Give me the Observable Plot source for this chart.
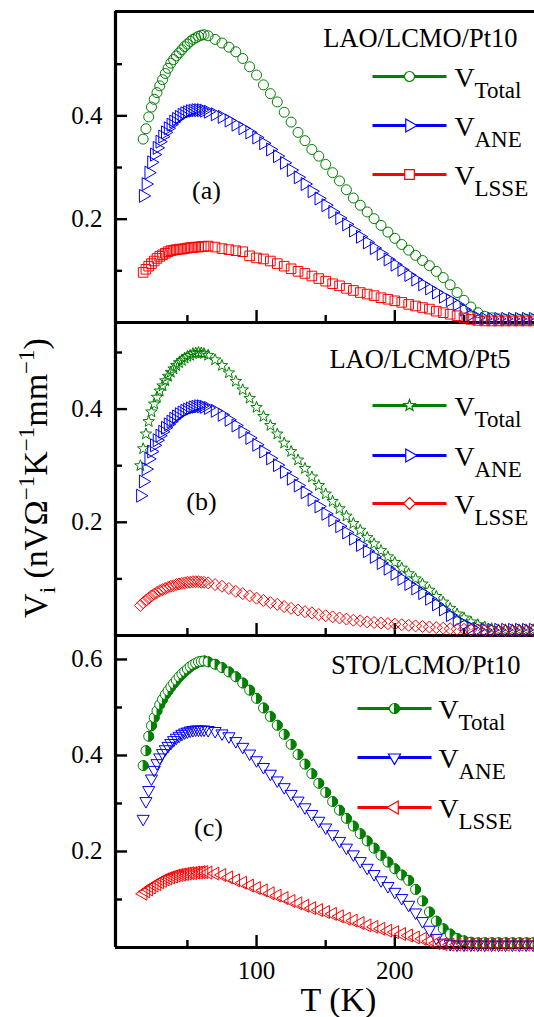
<!DOCTYPE html>
<html><head><meta charset="utf-8">
<script src="https://cdn.jsdelivr.net/npm/d3@7"></script>
<script src="https://cdn.jsdelivr.net/npm/@observablehq/plot@0.6"></script>
<style>
html,body{margin:0;padding:0;background:#fff;}
#chart{position:relative;width:534px;height:1017px;overflow:hidden;background:#fff;font-family:"Liberation Serif",serif;}
#chart text{font-family:"Liberation Serif",serif;}
</style></head>
<body><div id="chart"></div>
<script>
// ---------------- data ----------------
const tempsA = [18,20,22,24,26,28,30,32,34,36,38,40,42,44,46,48,50,52,54,56,58,60,62,65,70,75,80,85,90,95,100,105,110,115,120,125,130,135,140,145,150,155,160,165,170,175,180,185,190,195,200,205,210,215,220,225,230,235,240,245,250,255,260,265,270,275,280,285,290,295,300];
const totalA = [0.355,0.375,0.398,0.417,0.432,0.445,0.458,0.470,0.482,0.492,0.502,0.509,0.516,0.522,0.528,0.534,0.539,0.544,0.548,0.551,0.554,0.556,0.557,0.555,0.548,0.541,0.533,0.524,0.511,0.495,0.479,0.460,0.443,0.427,0.407,0.388,0.368,0.352,0.335,0.322,0.306,0.290,0.274,0.257,0.241,0.227,0.214,0.201,0.188,0.175,0.163,0.151,0.140,0.130,0.120,0.110,0.099,0.087,0.073,0.058,0.043,0.030,0.019,0.012,0.009,0.007,0.006,0.006,0.006,0.006,0.006];
const aneA = [0.245,0.268,0.290,0.310,0.325,0.338,0.350,0.360,0.368,0.376,0.383,0.389,0.394,0.398,0.402,0.405,0.407,0.409,0.410,0.411,0.411,0.411,0.410,0.408,0.403,0.398,0.391,0.383,0.376,0.368,0.358,0.347,0.335,0.322,0.309,0.295,0.281,0.268,0.254,0.240,0.227,0.214,0.202,0.190,0.178,0.166,0.155,0.144,0.133,0.122,0.112,0.102,0.092,0.083,0.074,0.066,0.058,0.050,0.043,0.035,0.025,0.015,0.009,0.007,0.007,0.007,0.007,0.007,0.007,0.007,0.007];
const lsseA = [0.097,0.103,0.109,0.114,0.119,0.124,0.128,0.131,0.134,0.137,0.139,0.140,0.141,0.142,0.142,0.143,0.144,0.145,0.145,0.146,0.146,0.147,0.147,0.148,0.146,0.143,0.141,0.139,0.137,0.129,0.125,0.123,0.119,0.114,0.109,0.104,0.099,0.095,0.090,0.085,0.080,0.075,0.071,0.066,0.062,0.058,0.055,0.052,0.048,0.045,0.042,0.039,0.035,0.032,0.029,0.026,0.022,0.019,0.016,0.013,0.009,0.006,0.004,0.003,0.003,0.003,0.003,0.003,0.003,0.003,0.003];

const tempsB = [16,18,20,22,24,26,28,30,32,34,36,38,40,42,44,46,48,50,52,54,56,58,60,62,65,70,75,80,85,90,95,100,105,110,115,120,125,130,135,140,145,150,155,160,165,170,175,180,185,190,195,200,205,210,215,220,225,230,235,240,245,250,255,260,265,270,275,280,285,290,295,300];
const totalB = [0.300,0.330,0.356,0.378,0.395,0.409,0.421,0.432,0.441,0.450,0.458,0.465,0.471,0.477,0.482,0.486,0.490,0.493,0.495,0.498,0.499,0.500,0.499,0.498,0.495,0.487,0.477,0.464,0.449,0.434,0.419,0.403,0.387,0.371,0.356,0.340,0.325,0.310,0.295,0.280,0.265,0.250,0.237,0.224,0.211,0.198,0.186,0.173,0.162,0.150,0.139,0.129,0.119,0.109,0.100,0.091,0.080,0.069,0.059,0.048,0.038,0.031,0.024,0.019,0.015,0.012,0.010,0.010,0.010,0.010,0.010,0.010];
const aneB = [0.247,0.272,0.294,0.312,0.325,0.336,0.345,0.353,0.360,0.367,0.373,0.378,0.383,0.387,0.391,0.394,0.397,0.399,0.401,0.403,0.404,0.405,0.405,0.404,0.402,0.397,0.390,0.381,0.371,0.360,0.349,0.337,0.325,0.313,0.301,0.289,0.277,0.265,0.253,0.240,0.228,0.215,0.204,0.193,0.182,0.171,0.160,0.149,0.139,0.128,0.118,0.109,0.100,0.091,0.083,0.075,0.065,0.055,0.046,0.036,0.027,0.020,0.014,0.011,0.010,0.010,0.010,0.010,0.010,0.010,0.010,0.010];
const lsseB = [0.053,0.058,0.062,0.066,0.070,0.073,0.076,0.079,0.081,0.083,0.085,0.087,0.088,0.090,0.091,0.092,0.093,0.094,0.094,0.095,0.095,0.095,0.094,0.094,0.093,0.090,0.087,0.083,0.078,0.074,0.070,0.066,0.062,0.058,0.055,0.051,0.048,0.045,0.042,0.040,0.037,0.035,0.033,0.031,0.029,0.027,0.026,0.024,0.023,0.022,0.021,0.020,0.019,0.018,0.017,0.016,0.015,0.014,0.013,0.012,0.011,0.011,0.010,0.010,0.009,0.009,0.009,0.009,0.009,0.009,0.009,0.009];

const tempsC = [18,20,22,24,26,28,30,32,34,36,38,40,42,44,46,48,50,52,54,56,58,60,62,65,70,75,80,85,90,95,100,105,110,115,120,125,130,135,140,145,150,155,160,165,170,175,180,185,190,195,200,205,210,215,220,225,230,235,240,245,250,255,260,265,270,275,280,285,290,295,300];
const totalC = [0.379,0.410,0.440,0.462,0.479,0.493,0.506,0.517,0.527,0.535,0.543,0.550,0.557,0.564,0.570,0.575,0.580,0.585,0.589,0.592,0.595,0.596,0.597,0.595,0.590,0.583,0.574,0.564,0.551,0.536,0.519,0.499,0.481,0.463,0.444,0.423,0.402,0.382,0.362,0.342,0.323,0.304,0.286,0.269,0.253,0.237,0.222,0.207,0.192,0.178,0.164,0.151,0.140,0.121,0.097,0.074,0.055,0.039,0.028,0.019,0.014,0.011,0.010,0.010,0.010,0.010,0.010,0.010,0.010,0.010,0.010];
const aneC = [0.268,0.305,0.328,0.352,0.370,0.384,0.396,0.405,0.413,0.420,0.426,0.432,0.437,0.441,0.445,0.448,0.450,0.452,0.453,0.454,0.454,0.454,0.454,0.453,0.451,0.446,0.440,0.430,0.418,0.404,0.390,0.376,0.362,0.348,0.334,0.320,0.306,0.292,0.278,0.264,0.250,0.236,0.222,0.208,0.194,0.180,0.166,0.153,0.140,0.128,0.116,0.103,0.089,0.073,0.055,0.037,0.020,0.010,0.007,0.006,0.006,0.006,0.006,0.006,0.006,0.006,0.006,0.006,0.006,0.006,0.006];
const lsseC = [0.112,0.117,0.121,0.125,0.129,0.132,0.136,0.139,0.142,0.144,0.146,0.148,0.150,0.151,0.152,0.153,0.154,0.155,0.155,0.156,0.156,0.157,0.157,0.156,0.154,0.151,0.146,0.140,0.135,0.129,0.124,0.119,0.113,0.108,0.103,0.097,0.092,0.087,0.082,0.078,0.074,0.070,0.065,0.060,0.056,0.051,0.046,0.043,0.039,0.035,0.032,0.028,0.025,0.021,0.018,0.013,0.009,0.007,0.006,0.006,0.006,0.006,0.006,0.006,0.006,0.006,0.006,0.006,0.006,0.006,0.006];

const panelTitles = ["LAO/LCMO/Pt10", "LAO/LCMO/Pt5", "STO/LCMO/Pt10"];
const panelLetters = ["(a)", "(b)", "(c)"];
const seriesNames = ["Total", "ANE", "LSSE"];
const xMajorTicks = [100, 200];
const xMinorTicks = [50, 150, 250];
const yMajorA = [0.2, 0.4], yMinorA = [0.1, 0.3, 0.5];
const yMajorB = [0.2, 0.4], yMinorB = [0.1, 0.3, 0.5];
const yMajorC = [0.2, 0.4, 0.6], yMinorC = [0.1, 0.3, 0.5];
const xLabel = "T (K)";
const yLabelParts = [["V", ""], ["i", "sub"], [" (nVΩ", ""], ["−1", "sup"], ["K", ""], ["−1", "sup"], ["mm", ""], ["−1", "sup"], [")", ""]];

// ---------------- styling ----------------
const GREEN = "#008000", BLUE = "#0000ff", RED = "#ff0000";
const FONT = "'Liberation Serif', 'Times New Roman', serif";
const W = 534, LEFT = 115;
const X_DOMAIN = [-2, 301];

function shape(fn) { return {draw(ctx, size) { fn(ctx, Math.sqrt(size / Math.PI)); }}; }
const triRight = shape((c, r) => { c.moveTo(r, 0); c.lineTo(-r / 2, -r * 0.866); c.lineTo(-r / 2, r * 0.866); c.closePath(); });
const triLeft = shape((c, r) => { c.moveTo(-r, 0); c.lineTo(r / 2, -r * 0.866); c.lineTo(r / 2, r * 0.866); c.closePath(); });
const triDown = shape((c, r) => { c.moveTo(0, r); c.lineTo(-r * 0.866, -r / 2); c.lineTo(r * 0.866, -r / 2); c.closePath(); });
const squareS = shape((c, r) => { c.rect(-r, -r, 2 * r, 2 * r); });
const diamondS = shape((c, r) => { c.moveTo(0, -r); c.lineTo(r, 0); c.lineTo(0, r); c.lineTo(-r, 0); c.closePath(); });
const starS = shape((c, r) => {
  for (let i = 0; i < 10; i++) {
    const a = -Math.PI / 2 + i * Math.PI / 5, rr = i % 2 ? r * 0.42 : r;
    const x = rr * Math.cos(a), y = rr * Math.sin(a);
    if (i) c.lineTo(x, y); else c.moveTo(x, y);
  }
  c.closePath();
});
const halfRight = shape((c, r) => { c.moveTo(0, -r); c.arc(0, 0, r, -Math.PI / 2, Math.PI / 2); c.closePath(); });
const hline = shape((c, r) => { c.moveTo(-r, 0); c.lineTo(r, 0); });

function rows(temps, vals) { return temps.map((T, i) => ({T, V: vals[i]})); }

function seriesMarks(data, st) {
  if (st.half) {
    const inter = data.flatMap(d => [{...d, part: "ring"}, {...d, part: "half"}]);
    return [Plot.dot(inter, {x: "T", y: "V", r: st.r,
      symbol: d => d.part === "ring" ? "circle" : halfRight,
      fill: d => d.part === "ring" ? "white" : st.color,
      stroke: st.color, strokeWidth: 1})];
  }
  return [Plot.dot(data, {x: "T", y: "V", r: st.r, symbol: st.symbol, stroke: st.color, fill: "none", strokeWidth: 1})];
}

function txt(str, opts) {
  return Plot.text([str], {text: d => d, frameAnchor: "top-left", lineAnchor: "bottom", fill: "black", fontFamily: FONT, ...opts});
}

function legendMarks(st, i, lay, ft) {
  const rowY = lay.rows[i] - ft;
  const cx = (lay.lineX0 + lay.lineX1) / 2 - LEFT;
  const m = [];
  m.push(Plot.dot([0], {frameAnchor: "top-left", dx: cx, dy: rowY, symbol: hline, r: (lay.lineX1 - lay.lineX0) / 2, stroke: st.color, strokeWidth: 3, fill: "none"}));
  if (st.half) {
    m.push(Plot.dot([0], {frameAnchor: "top-left", dx: cx, dy: rowY, symbol: "circle", r: st.r, fill: "white", stroke: st.color, strokeWidth: 1.2}));
    m.push(Plot.dot([0], {frameAnchor: "top-left", dx: cx, dy: rowY, symbol: halfRight, r: st.r, fill: st.color, stroke: st.color, strokeWidth: 1}));
  } else {
    m.push(Plot.dot([0], {frameAnchor: "top-left", dx: cx, dy: rowY, symbol: st.symbol, r: st.r, fill: "white", stroke: st.color, strokeWidth: 1.2}));
  }
  m.push(txt("V", {dx: lay.vx - LEFT, dy: rowY + 10, textAnchor: "start", fontSize: 28}));
  m.push(txt(seriesNames[i], {dx: lay.vx + 20 - LEFT, dy: rowY + 21, textAnchor: "start", fontSize: 23}));
  return m;
}

function panel(cfg) {
  const fw = W - LEFT;
  const fh = cfg.height - cfg.marginTop - cfg.marginBottom;
  const ft = cfg.top + cfg.marginTop;
  const marks = [];
  marks.push(Plot.ruleY(cfg.yMinor, {y: d => d, stroke: "black", strokeWidth: 2.4, insetRight: fw - 7}));
  marks.push(Plot.ruleY(cfg.yMajor, {y: d => d, stroke: "black", strokeWidth: 2.4, insetRight: fw - 12}));
  marks.push(Plot.ruleX(xMinorTicks, {x: d => d, stroke: "black", strokeWidth: 2.4, insetTop: fh - 7}));
  marks.push(Plot.ruleX(xMajorTicks, {x: d => d, stroke: "black", strokeWidth: 2.4, insetTop: fh - 12}));
  marks.push(Plot.ruleX([X_DOMAIN[0]], {x: d => d, stroke: "black", strokeWidth: 3.2}));
  marks.push(Plot.ruleY([cfg.yDomain[0]], {y: d => d, stroke: "black", strokeWidth: 3.2}));
  if (cfg.drawTop) marks.push(Plot.ruleY([cfg.yDomain[1]], {y: d => d, stroke: "black", strokeWidth: 3.2}));
  marks.push(Plot.axisY(cfg.yMajor, {tickSize: 0, tickPadding: 13, tickFormat: d3.format(".1f"), fontSize: 25, fontFamily: FONT, fill: "black", label: null}));
  if (cfg.bottomAxis) {
    marks.push(Plot.axisX(xMajorTicks, {tickSize: 0, tickPadding: 14, tickFormat: d => String(d), fontSize: 25, fontFamily: FONT, fill: "black", label: null}));
    marks.push(Plot.text([xLabel], {text: d => d, frameAnchor: "bottom", dx: 13.5, dy: 63, lineAnchor: "bottom", fontSize: 34, fontFamily: FONT, fill: "black"}));
  }
  cfg.series.forEach(st => marks.push(...seriesMarks(rows(cfg.temps, st.vals), st)));
  cfg.series.forEach((st, i) => marks.push(...legendMarks(st, i, cfg.lay, ft)));
  marks.push(txt(panelTitles[cfg.idx], {dx: cfg.lay.titleEnd - LEFT, dy: cfg.lay.titleY - ft, textAnchor: "end", fontSize: 26.5}));
  marks.push(txt(panelLetters[cfg.idx], {dx: cfg.lay.letterX - LEFT, dy: cfg.lay.letterY - ft, textAnchor: "middle", fontSize: 26}));

  const svg = Plot.plot({
    width: W, height: cfg.height,
    marginLeft: LEFT, marginRight: 0, marginTop: cfg.marginTop, marginBottom: cfg.marginBottom,
    x: {domain: X_DOMAIN, axis: cfg.bottomAxis ? undefined : null},
    y: {domain: cfg.yDomain},
    style: {fontFamily: FONT, fontSize: "25px", background: "transparent", overflow: "visible", color: "black"},
    marks
  });
  svg.setAttribute("font-family", FONT);
  svg.style.position = "absolute";
  svg.style.left = "0px";
  svg.style.top = cfg.top + "px";
  return svg;
}

const chart = document.getElementById("chart");
chart.appendChild(panel({
  idx: 0, temps: tempsA, top: 0, height: 324, marginTop: 11, marginBottom: 2, yDomain: [0, 0.602],
  yMajor: yMajorA, yMinor: yMinorA, drawTop: true, bottomAxis: false,
  series: [
    {vals: totalA, symbol: "circle", r: 5, color: GREEN},
    {vals: aneA, symbol: triRight, r: 7.5, color: BLUE},
    {vals: lsseA, symbol: squareS, r: 4.8, color: RED}
  ],
  lay: {titleEnd: 517, titleY: 46, rows: [76, 125, 174], lineX0: 372, lineX1: 446, vx: 454, letterX: 206, letterY: 198}
}));
chart.appendChild(panel({
  idx: 1, temps: tempsB, top: 312, height: 326, marginTop: 10, marginBottom: 3, yDomain: [0, 0.553],
  yMajor: yMajorB, yMinor: yMinorB, drawTop: false, bottomAxis: false,
  series: [
    {vals: totalB, symbol: starS, r: 6, color: GREEN},
    {vals: aneB, symbol: triRight, r: 7.5, color: BLUE},
    {vals: lsseB, symbol: diamondS, r: 6, color: RED}
  ],
  lay: {titleEnd: 510, titleY: 367, rows: [405, 455, 503], lineX0: 372, lineX1: 446, vx: 454, letterX: 201, letterY: 509}
}));
chart.appendChild(panel({
  idx: 2, temps: tempsC, top: 624, height: 393, marginTop: 10, marginBottom: 70, yDomain: [0, 0.652],
  yMajor: yMajorC, yMinor: yMinorC, drawTop: false, bottomAxis: true,
  series: [
    {vals: totalC, half: true, r: 5, color: GREEN},
    {vals: aneC, symbol: triDown, r: 7, color: BLUE},
    {vals: lsseC, symbol: triLeft, r: 7.5, color: RED}
  ],
  lay: {titleEnd: 520, titleY: 673, rows: [708, 757, 807], lineX0: 357, lineX1: 431, vx: 438, letterX: 208, letterY: 835}
}));

// rotated y-axis title with sub/superscripts
const NS = "http://www.w3.org/2000/svg";
const ov = document.createElementNS(NS, "svg");
ov.setAttribute("width", W); ov.setAttribute("height", 1017);
ov.style.cssText = "position:absolute;left:0;top:0;overflow:visible";
const tx = document.createElementNS(NS, "text");
tx.setAttribute("transform", "translate(47,478) rotate(-90)");
tx.setAttribute("text-anchor", "middle");
tx.setAttribute("font-family", FONT);
tx.setAttribute("font-size", 34);
let shift = 0;
for (const [s, kind] of yLabelParts) {
  const ts = document.createElementNS(NS, "tspan");
  const target = kind === "sub" ? 8 : kind === "sup" ? -13 : 0;
  ts.setAttribute("dy", target - shift); shift = target;
  if (kind) ts.setAttribute("font-size", 23);
  ts.textContent = s;
  tx.appendChild(ts);
}
ov.appendChild(tx);
chart.appendChild(ov);
</script>
</body></html>
